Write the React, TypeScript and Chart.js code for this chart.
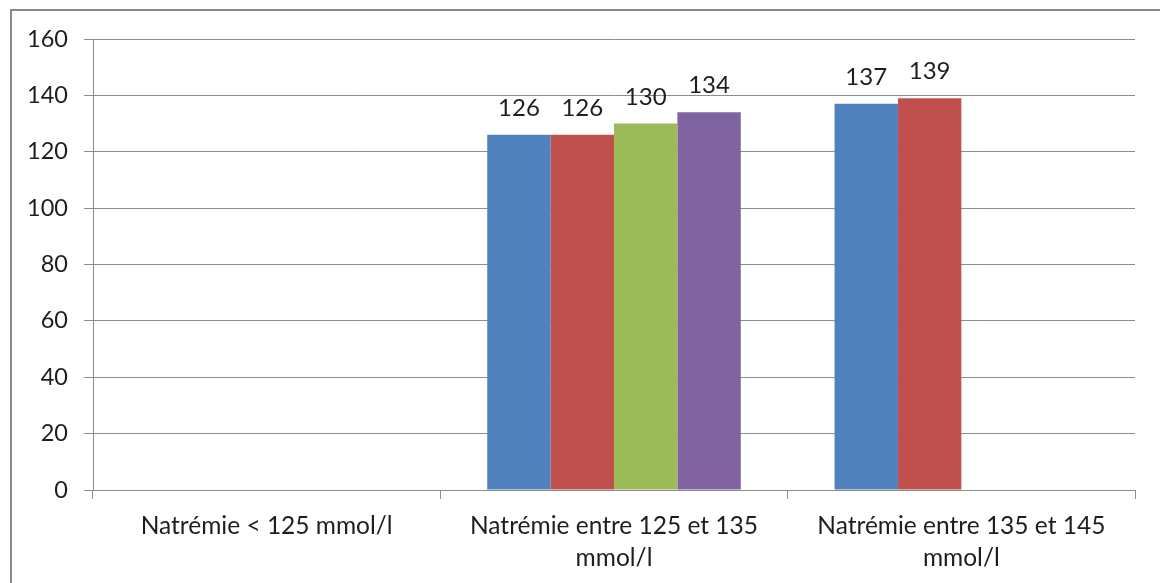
import React, { useEffect, useRef } from "react";
import { Chart, registerables } from "chart.js";

Chart.register(...registerables);

// Categories (multi-line labels are arrays)
const categories: (string | string[])[] = [
  "Natrémie < 125 mmol/l",
  ["Natrémie entre 125 et 135", "mmol/l"],
  ["Natrémie entre 135 et 145", "mmol/l"],
];

// Series values per category
const series1: (number | null)[] = [null, 126, 137];
const series2: (number | null)[] = [null, 126, 139];
const series3: (number | null)[] = [null, 130, null];
const series4: (number | null)[] = [null, 134, null];

const seriesColors = ["#4F81BD", "#C0504D", "#9BBB59", "#8064A2"];

// Y-axis range
const yMin = 0;
const yMax = 160;
const yStep = 20;

const FONT = "Lato, 'Open Sans', sans-serif";
const TEXT_COLOR = "#1e1e1e";
const GRID_COLOR = "#8c8c8c";

// Draws value labels above each bar
const valueLabels = {
  id: "valueLabels",
  afterDatasetsDraw(chart: any) {
    const ctx = chart.ctx;
    ctx.save();
    ctx.font = `24px ${FONT}`;
    ctx.fillStyle = TEXT_COLOR;
    ctx.textAlign = "center";
    ctx.textBaseline = "alphabetic";
    chart.data.datasets.forEach((ds: any, i: number) => {
      const meta = chart.getDatasetMeta(i);
      meta.data.forEach((bar: any, j: number) => {
        const v = ds.data[j];
        if (v === null || v === undefined) return;
        ctx.fillText(String(v), bar.x, bar.y - 19);
      });
    });
    ctx.restore();
  },
};

// Outer frame around the chart
const frame = {
  id: "frame",
  beforeDraw(chart: any) {
    const ctx = chart.ctx;
    ctx.save();
    ctx.strokeStyle = "#8a8a8a";
    ctx.lineWidth = 2;
    ctx.strokeRect(11, 10, 1300, 700);
    ctx.restore();
  },
};

export default function App() {
  const canvasRef = useRef<HTMLCanvasElement | null>(null);

  useEffect(() => {
    if (!canvasRef.current) return;
    const data = [series1, series2, series3, series4];
    const chart = new Chart(canvasRef.current, {
      type: "bar",
      data: {
        labels: categories,
        datasets: data.map((d, i) => ({
          label: `Série ${i + 1}`,
          data: d,
          backgroundColor: seriesColors[i],
          borderWidth: 0,
          categoryPercentage: 0.73,
          barPercentage: 1,
        })),
      },
      options: {
        animation: false,
        responsive: true,
        maintainAspectRatio: false,
        layout: { padding: { top: 39, right: 25, left: 0, bottom: 0 } },
        plugins: {
          legend: { display: false },
          tooltip: { enabled: false },
        },
        scales: {
          x: {
            grid: {
              offset: true,
              drawOnChartArea: false,
              drawTicks: true,
              tickLength: 9,
              color: GRID_COLOR,
            },
            border: { display: true, color: GRID_COLOR, width: 1 },
            ticks: {
              color: TEXT_COLOR,
              font: { family: FONT, size: 24.5, lineHeight: 1.3 },
              padding: 11,
              maxRotation: 0,
              autoSkip: false,
            },
            afterFit(scale: any) {
              scale.height = 93;
            },
          },
          y: {
            min: yMin,
            max: yMax,
            grid: {
              color: GRID_COLOR,
              tickLength: 9,
            },
            border: { display: true, color: GRID_COLOR, width: 1 },
            ticks: {
              stepSize: yStep,
              color: TEXT_COLOR,
              font: { family: FONT, size: 23.5 },
              padding: 16,
            },
            afterFit(scale: any) {
              scale.width = 93;
            },
          },
        },
      },
      plugins: [frame, valueLabels],
    });
    return () => chart.destroy();
  }, []);

  return (
    <div style={{ position: "absolute", left: 0, top: 0, width: 1160, height: 583, background: "#fff" }}>
      <canvas ref={canvasRef} />
    </div>
  );
}
